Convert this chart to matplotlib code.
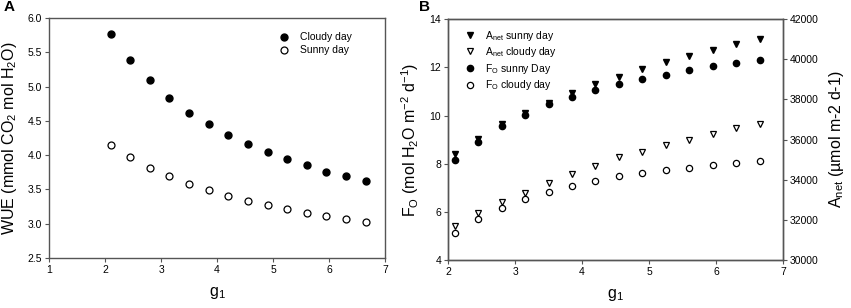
import numpy as np
import matplotlib.pyplot as plt

plt.rcParams['font.family'] = ['Liberation Sans', 'DejaVu Sans']
plt.rcParams['mathtext.fontset'] = 'custom'
plt.rcParams['mathtext.rm'] = 'Liberation Sans'
plt.rcParams['mathtext.it'] = 'Liberation Sans'
plt.rcParams['mathtext.default'] = 'regular'

# g1 values (shared by both panels)
g1 = [2.1, 2.45, 2.8, 3.15, 3.5, 3.85, 4.2, 4.55, 4.9, 5.25, 5.6, 5.95, 6.3, 6.65]

# panel A: WUE
wue_cloudy = [5.77, 5.39, 5.09, 4.84, 4.62, 4.45, 4.29, 4.16, 4.04, 3.94, 3.85, 3.76, 3.69, 3.63]
wue_sunny = [4.15, 3.97, 3.82, 3.69, 3.58, 3.49, 3.40, 3.33, 3.27, 3.21, 3.16, 3.11, 3.07, 3.03]

# panel B: Fo (left axis) and Anet (right axis)
fo_sunny = [8.14, 8.91, 9.56, 10.04, 10.46, 10.78, 11.05, 11.29, 11.51, 11.70, 11.87, 12.04, 12.17, 12.30]
fo_cloudy = [5.11, 5.69, 6.17, 6.52, 6.81, 7.06, 7.28, 7.49, 7.60, 7.74, 7.83, 7.94, 8.02, 8.11]
anet_sunny = [35280, 36030, 36760, 37300, 37830, 38300, 38750, 39130, 39510, 39860, 40170, 40470, 40740, 40990]
anet_cloudy = [31710, 32320, 32870, 33350, 33850, 34280, 34700, 35110, 35390, 35730, 35990, 36290, 36560, 36770]

spine_col = '#555555'
tick_fs = 7.5
lab_fs = 11.5


def style_axis(ax):
    for s in ax.spines.values():
        s.set_color(spine_col)
        s.set_linewidth(1.0)
    ax.tick_params(direction='out', length=3, width=0.8, color=spine_col,
                   labelsize=tick_fs, pad=2)


fig = plt.figure(figsize=(8.51, 3.08), dpi=100)

# ---- panel A
axA = fig.add_axes([0.0576, 0.1623, 0.395, 0.779])
axA.plot(g1, wue_cloudy, 'o', color='black', ms=5, label='Cloudy day')
axA.plot(g1, wue_sunny, 'o', mfc='white', mec='black', mew=0.9, ms=5, label='Sunny day')
axA.set_xlim(1, 7)
axA.set_ylim(2.5, 6.0)
axA.set_xticks(range(1, 8))
axA.set_yticks(np.arange(2.5, 6.01, 0.5))
axA.set_yticklabels(['%.1f' % v for v in np.arange(2.5, 6.01, 0.5)])
style_axis(axA)
axA.set_xlabel('$g_1$', fontsize=lab_fs, labelpad=7)
axA.set_ylabel('WUE (mmol CO$_2$ mol H$_2$O)', fontsize=lab_fs, labelpad=6)
axA.legend(loc='upper right', bbox_to_anchor=(0.93, 0.98), frameon=False,
           fontsize=7.5, handletextpad=0.8, labelspacing=0.3, handlelength=1.5)
fig.text(0.004, 0.965, 'A', fontsize=11, fontweight='bold')

# ---- panel B
axB = fig.add_axes([0.5265, 0.1558, 0.3937, 0.782])
axB2 = axB.twinx()
h1, = axB2.plot(g1, anet_sunny, 'v', color='black', ms=4.5, label='A$_{net}$ sunny day')
h2, = axB2.plot(g1, anet_cloudy, 'v', mfc='white', mec='black', mew=0.9, ms=4.5,
                label='A$_{net}$ cloudy day')
h3, = axB.plot(g1, fo_sunny, 'o', color='black', ms=4.5, label='F$_O$ sunny Day')
h4, = axB.plot(g1, fo_cloudy, 'o', mfc='white', mec='black', mew=0.9, ms=4.5,
               label='F$_O$ cloudy day')
axB.set_xlim(2, 7)
axB.set_ylim(4, 14)
axB.set_xticks(range(2, 8))
axB.set_yticks(range(4, 15, 2))
axB2.set_ylim(30000, 42000)
axB2.set_yticks(range(30000, 42001, 2000))
style_axis(axB)
style_axis(axB2)
axB.set_xlabel('$g_1$', fontsize=lab_fs, labelpad=7)
axB.set_ylabel('F$_O$ (mol H$_2$O m$^{-2}$ d$^{-1}$)', fontsize=lab_fs, labelpad=6)
axB2.set_ylabel('A$_{net}$ (µmol m-2 d-1)', fontsize=lab_fs, labelpad=6)
axB.legend(handles=[h1, h2, h3, h4], loc='upper left', bbox_to_anchor=(0.02, 1.0),
           frameon=False, fontsize=7.5, handletextpad=0.8, labelspacing=0.25,
           handlelength=1.2)
fig.text(0.492, 0.965, 'B', fontsize=11, fontweight='bold')

fig.savefig('out.png', dpi=100)
